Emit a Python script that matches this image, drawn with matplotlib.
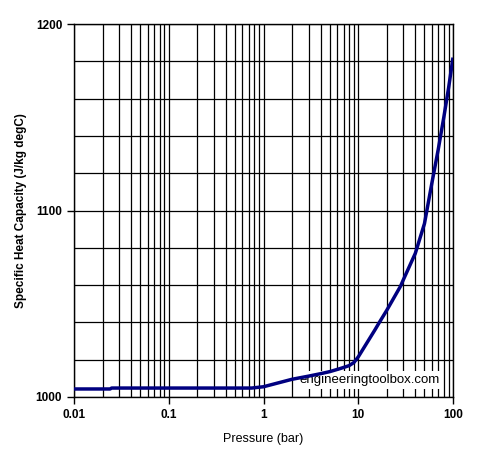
import numpy as np
import matplotlib.pyplot as plt
from matplotlib.ticker import LogLocator, MultipleLocator, FixedLocator, NullFormatter

plt.rcParams['font.family'] = ['Liberation Sans', 'DejaVu Sans']

# specific heat capacity of air vs pressure
pressure = [0.01, 0.024, 0.025, 0.75, 1, 2, 3, 4, 5, 6.4, 8, 9, 10, 15,
            16.7, 20, 28, 30, 40, 50, 60, 70, 80, 90, 100]
cp = [1004.3, 1004.3, 1004.8, 1004.8, 1005.5, 1009.5, 1011.2, 1012.5, 1013.6,
      1015.2, 1016.8, 1018.5, 1021.5, 1036.0, 1040.0, 1046.5, 1059.5, 1063.0,
      1077.0, 1093.0, 1115.0, 1133.0, 1150.0, 1166.0, 1182.0]

x_ticks = [0.01, 0.1, 1, 10, 100]
x_labels = ['0.01', '0.1', '1', '10', '100']
y_ticks = [1000, 1100, 1200]

fig = plt.figure(figsize=(5.0, 4.62), dpi=100)
ax = fig.add_axes([0.148, 0.1407, 0.758, 0.8073])

ax.plot(pressure, cp, color='#000080', lw=2.5, solid_capstyle='butt', zorder=3)

ax.set_xscale('log')
ax.set_xlim(0.01, 100)
ax.set_ylim(1000, 1200)

ax.xaxis.set_major_locator(FixedLocator(x_ticks))
ax.set_xticklabels(x_labels)
ax.xaxis.set_minor_locator(LogLocator(base=10, subs=np.arange(2, 10)))
ax.xaxis.set_minor_formatter(NullFormatter())
ax.yaxis.set_major_locator(FixedLocator(y_ticks))
ax.yaxis.set_minor_locator(MultipleLocator(20))

ax.grid(which='both', color='black', lw=0.9)
ax.tick_params(which='major', direction='out', length=5, width=1, color='black',
               labelsize=8.5)
ax.tick_params(which='minor', length=0)
for lab in ax.get_xticklabels() + ax.get_yticklabels():
    lab.set_fontweight('bold')
for sp in ax.spines.values():
    sp.set_linewidth(1)

ax.set_xlabel('Pressure (bar)', fontsize=9, labelpad=9)
ax.set_ylabel('Specific Heat Capacity (J/kg degC)', fontsize=8.5,
              fontweight='bold', labelpad=6)

ax.text(0.595, 0.045, 'engineeringtoolbox.com', transform=ax.transAxes,
        fontsize=9.5, ha='left', va='center', zorder=2,
        bbox=dict(facecolor='white', edgecolor='none', pad=2))

fig.savefig('out.png', dpi=100)
